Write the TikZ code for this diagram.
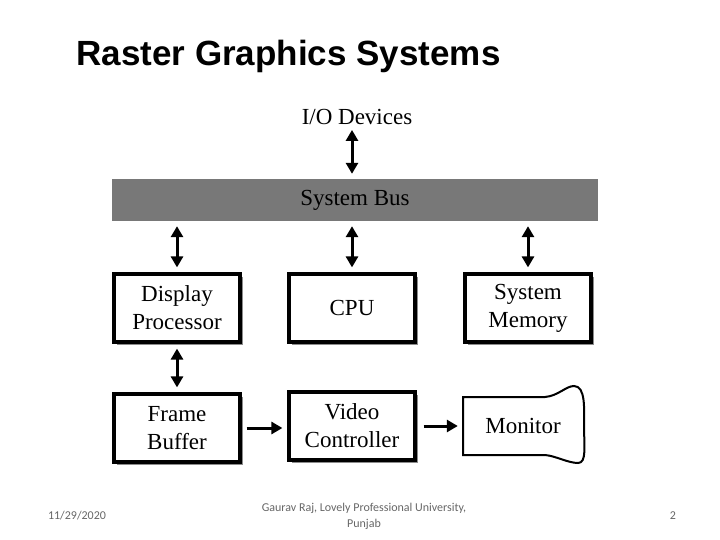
\documentclass[tikz,border=0pt]{standalone}
\usepackage{fontspec}
\setmainfont{Liberation Serif}
\newfontfamily\titlefont{Liberation Sans}
\newfontfamily\footfont{Carlito}
\usetikzlibrary{arrows.meta,shadows}

\tikzset{
  unitbox/.style={draw,fill=white,line width=3.2pt,minimum width=126pt,minimum height=68pt,
    align=center,font=\fontsize{23}{28}\selectfont,
    drop shadow={shadow xshift=2.5pt,shadow yshift=-2.5pt,fill=black!45,opacity=1}},
  link/.style={line width=3pt,shorten <=5pt,shorten >=5pt,
    {Triangle[length=11pt,width=12pt]}-{Triangle[length=11pt,width=12pt]}},
  feed/.style={line width=3pt,shorten <=5pt,shorten >=5pt,-{Triangle[length=11pt,width=12pt]}},
  foot/.style={font=\footfont\fontsize{12}{16}\selectfont,text=black!60,align=center}
}

\begin{document}
\begin{tikzpicture}[x=1pt,y=-1pt]
\useasboundingbox (0,0) rectangle (720,540);
\node[anchor=base west,font=\titlefont\bfseries\fontsize{35}{38}\selectfont] (title) at (73,66) {Raster Graphics Systems};
\node[inner sep=0pt,font=\fontsize{23}{28}\selectfont] (io) at (357,117) {I/O Devices};
\node[fill=black!53,minimum width=486pt,minimum height=42pt,font=\fontsize{23}{28}\selectfont] (bus) at (355,200) {System Bus};
\node[unitbox] (dp) at (177,308) {Display\\Processor};
\node[unitbox] (cpu) at (352,308) {CPU};
\node[unitbox] (mem) at (528,308) {System\\Memory};
\node[unitbox] (fb) at (177,428) {Frame\\Buffer};
\node[unitbox] (vc) at (352,426) {Video\\Controller};
\node[minimum width=120pt,minimum height=58pt,font=\fontsize{23}{28}\selectfont] (mon) at (523,426) {Monitor};
\draw[line width=2pt] (463,397) -- (545,397) .. controls (558,396) and (566,386) .. (574,386)
  .. controls (586,386) and (584,410) .. (584,425) .. controls (584,445) and (587,463) .. (578,463)
  .. controls (568,463) and (556,456) .. (545,455) -- (463,455) -- cycle;
\draw[link] (io.south -| cpu) -- (bus.north -| cpu);
\draw[link] (bus.south -| dp) -- (dp.north);
\draw[link] (bus.south -| cpu) -- (cpu.north);
\draw[link] (bus.south -| mem) -- (mem.north);
\draw[link] (dp.south) -- (fb.north);
\draw[feed] (fb.east) -- (fb.east -| vc.west);
\draw[feed,shorten <=7pt] (vc.east) -- (vc.east -| mon.west);
\node[foot] (date) at (77,516) {11/29/2020};
\node[foot] (author) at (364,516) {Gaurav Raj, Lovely Professional University,\\Punjab};
\node[foot] (page) at (673,516) {2};
\end{tikzpicture}
\end{document}
